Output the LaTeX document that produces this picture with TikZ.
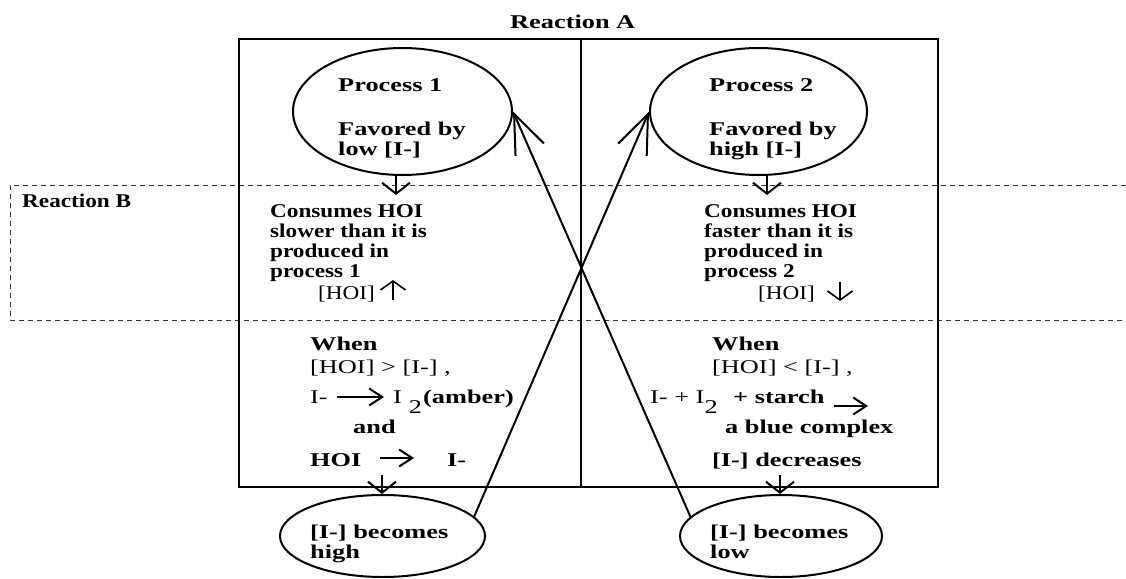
\documentclass[tikz,border=0pt]{standalone}
\usepackage{fontspec}
\setmainfont{Liberation Serif}
\newfontfamily\bandfont[FakeStretch=1.19]{Liberation Serif}
\newfontfamily\wideserif[FakeStretch=1.35]{Liberation Serif}
\usetikzlibrary{arrows.meta,shapes.geometric}
\tikzset{
  txt/.style={anchor=base west, inner sep=0pt, font=\fontsize{19.5}{20}\wideserif\bfseries},
  rtxt/.style={anchor=base west, inner sep=0pt, font=\fontsize{19.5}{20}\wideserif},
  btxt/.style={anchor=base west, inner sep=0pt, font=\fontsize{19.5}{20}\bandfont\bfseries},
  brtxt/.style={anchor=base west, inner sep=0pt, font=\fontsize{19.5}{20}\bandfont},
  oval/.style={ellipse, draw, line width=2pt, inner sep=0pt},
  bigarrow/.style={line width=2pt, -{Straight Barb[length=39pt,width=31pt,line width=2pt]}},
  downarrow/.style={line width=2pt, -{Straight Barb[length=11pt,width=28pt,line width=2pt]}},
  txtarrow/.style={line width=2pt, -{Straight Barb[length=13pt,width=17pt,line width=2pt]}},
  hoiarrow/.style={line width=1.6pt, -{Straight Barb[length=9pt,width=25pt,line width=1.6pt]}},
  frame/.style={line width=2.5pt},
  bandline/.style={line width=1pt, dash pattern=on 5pt off 4pt, black!80}
}
\begin{document}
\begin{tikzpicture}[x=1pt,y=-1pt]
\useasboundingbox (0,0) rectangle (1126,578);
% dashed Reaction B band
\draw[bandline] (1126,185) -- (10,185) -- (10,320) -- (1126,320);
% main frame
\draw[frame] (239,39) rectangle (938,487);
\draw[frame] (581,39) -- (581,487);
% titles
\node[txt] (ra) at (510,29) {Reaction A};
\node[btxt] (rb) at (22,207) {Reaction B};
% ellipses
\node[oval, minimum width=219pt, minimum height=127pt] (e1) at (402.5,111.5) {};
\node[oval, minimum width=217pt, minimum height=127pt] (e2) at (758.5,111.5) {};
\node[oval, minimum width=205pt, minimum height=82pt] (e3) at (382.5,536) {};
\node[oval, minimum width=202pt, minimum height=82pt] (e4) at (781,536) {};
% ellipse texts
\node[txt] (p1a) at (338,91) {Process 1};
\node[txt] (p1b) at (338,135) {Favored by};
\node[txt] (p1c) at (338,155) {low [I-]};
\node[txt] (p2a) at (709,91) {Process 2};
\node[txt] (p2b) at (709,135) {Favored by};
\node[txt] (p2c) at (709,155) {high [I-]};
\node[txt] (h1a) at (310,538) {[I-] becomes};
\node[txt] (h1b) at (310,558) {high};
\node[txt] (l1a) at (710,538) {[I-] becomes};
\node[txt] (l1b) at (710,558) {low};
% Reaction B texts
\node[btxt] (c1a) at (270,217) {Consumes HOI};
\node[btxt] (c1b) at (270,237) {slower than it is};
\node[btxt] (c1c) at (270,257) {produced in};
\node[btxt] (c1d) at (270,277) {process 1};
\node[brtxt] (c1e) at (318,299) {[HOI]};
\node[btxt] (c2a) at (704,217) {Consumes HOI};
\node[btxt] (c2b) at (704,237) {faster than it is};
\node[btxt] (c2c) at (704,257) {produced in};
\node[btxt] (c2d) at (704,277) {process 2};
\node[brtxt] (c2e) at (758,299) {[HOI]};
\coordinate (u1a) at (393,300); \coordinate (u1b) at (393,280);
\draw[hoiarrow] (u1a) -- (u1b);
\coordinate (d1a) at (840,282); \coordinate (d1b) at (840,301);
\draw[hoiarrow] (d1a) -- (d1b);
% bottom left texts
\node[txt] (w1) at (310,350) {When};
\node[rtxt] (w1b) at (310,373) {[HOI] > [I-] ,};
\node[rtxt] (w1c) at (310,403) {I-};
\coordinate (ar1a) at (337,397); \coordinate (ar1b) at (384,397);
\draw[txtarrow] (ar1a) -- (ar1b);
\node[rtxt] (w1d) at (393,403) {I\hspace{7pt}\raisebox{-10pt}{2}};
\node[txt] (w1h) at (423,403) {(amber)};
\node[txt] (w1e) at (353,433) {and};
\node[txt] (w1f) at (310,466) {HOI};
\coordinate (ar2a) at (380,458); \coordinate (ar2b) at (414,458);
\draw[txtarrow] (ar2a) -- (ar2b);
\node[txt] (w1g) at (447,466) {I-};
% bottom right texts
\node[txt] (w2) at (712,350) {When};
\node[rtxt] (w2b) at (712,373) {[HOI] < [I-] ,};
\node[rtxt] (w2c) at (650,403) {I- + I\raisebox{-10pt}{2}};
\node[txt] (w2f) at (733,403) {+ starch};
\coordinate (ar3a) at (834,406); \coordinate (ar3b) at (868,406);
\draw[txtarrow] (ar3a) -- (ar3b);
\node[txt] (w2d) at (725,433) {a blue complex};
\node[txt] (w2e) at (712,466) {[I-] decreases};
% down arrows
\coordinate (a1) at (396,195);
\coordinate (a2) at (767,195);
\draw[downarrow] (e1.south -| a1) -- (a1);
\draw[downarrow] (e2.south -| a2) -- (a2);
\coordinate (b1) at (382,475);
\coordinate (b2) at (780,475);
\draw[downarrow] (b1) -- (e3.north -| b1);
\draw[downarrow] (b2) -- (e4.north -| b2);
% crossing arrows
\draw[bigarrow] (e3.12) -- (e2.west);
\draw[bigarrow] (e4.168) -- (e1.east);
\end{tikzpicture}
\end{document}
